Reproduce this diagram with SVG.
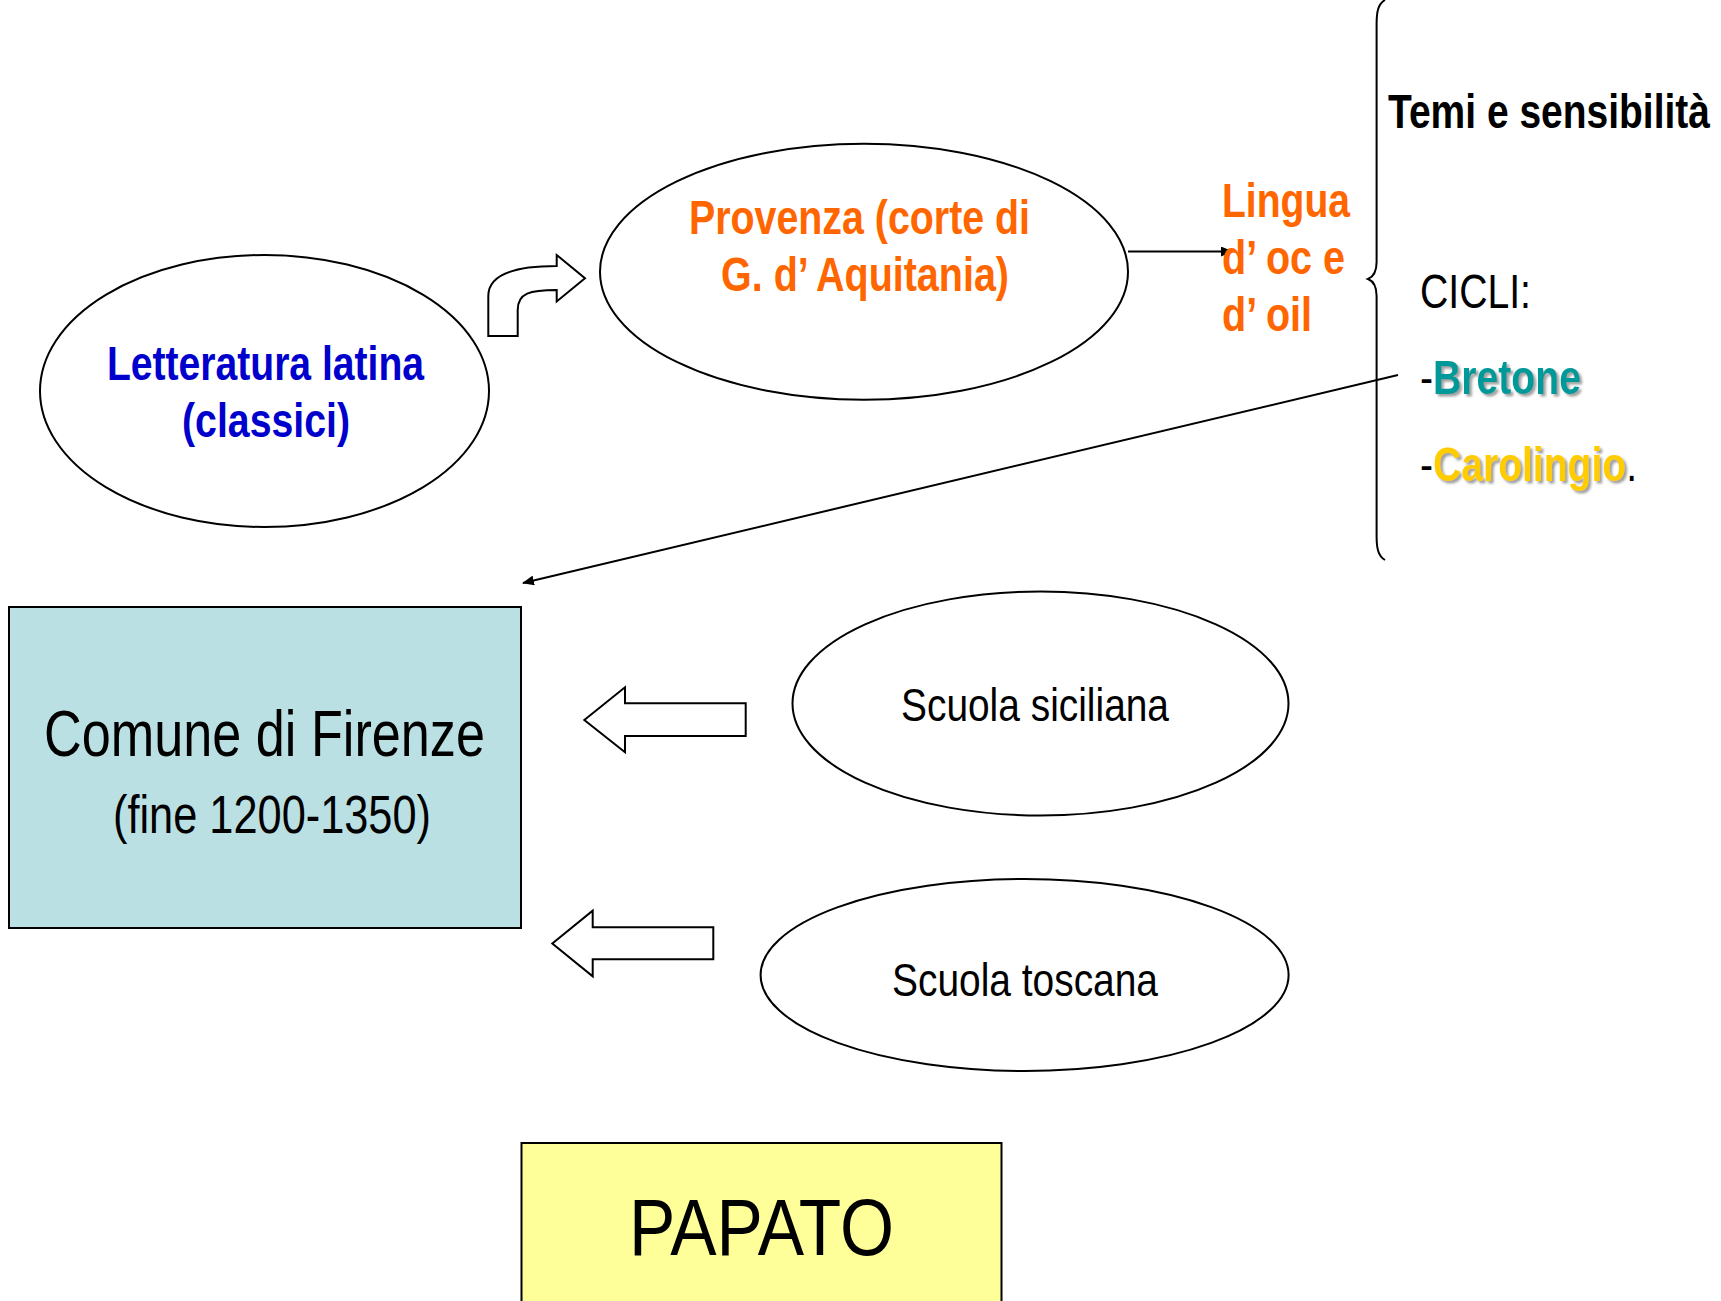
<svg xmlns="http://www.w3.org/2000/svg" width="1721" height="1301" viewBox="0 0 1721 1301">
  <style>
    .t { font-family: "Liberation Sans", Arial, sans-serif; }
    .b { font-weight: bold; }
    .shape { fill: #FFFFFF; stroke: #000000; stroke-width: 2; }
    .conn { fill: none; stroke: #000000; stroke-width: 2; }
    .orange { fill: #FF6600; }
    .blue { fill: #0000CC; }
    .teal { fill: #009999; }
    .gold { fill: #FFCC00; }
  </style>
  <defs>
    <marker id="arr" viewBox="0 0 12 10" refX="11" refY="5" markerWidth="12" markerHeight="10" markerUnits="userSpaceOnUse" orient="auto">
      <path d="M0,0 L12,5 L0,10 Z" fill="#000000"/>
    </marker>
    <filter id="shadow" x="-5%" y="-20%" width="115%" height="150%">
      <feDropShadow dx="2.5" dy="2.5" stdDeviation="1" flood-color="#888888" flood-opacity="0.8"/>
    </filter>
  </defs>
  <rect width="1721" height="1301" fill="#FFFFFF"/>

  <g id="connectors">
    <line class="conn" x1="1128" y1="251.5" x2="1232" y2="251.5" marker-end="url(#arr)"/>
    <line class="conn" x1="1398" y1="375" x2="523" y2="583" marker-end="url(#arr)"/>
    <path id="bent-arrow" class="shape" d="M488.3,336 L488.3,296 C488.3,276 510,266 556.7,266 L556.7,255 L585,278.3 L556.7,301.5 L556.7,290 C530,290 517.7,293 517.7,310 L517.7,336 Z"/>
    <path id="arrow-siciliana" class="shape" d="M584.3,720 L625,687.3 L625,703.3 L745.7,703.3 L745.7,736 L625,736 L625,752.3 Z"/>
    <path id="arrow-toscana" class="shape" d="M552.3,943.5 L592.7,910.7 L592.7,927.3 L713.3,927.3 L713.3,959.3 L592.7,959.3 L592.7,976.3 Z"/>
  </g>

  <g id="node-letteratura">
    <ellipse class="shape" cx="264.5" cy="391" rx="224.5" ry="136"/>
    <text class="t b blue" font-size="48" x="107" y="380" textLength="317" lengthAdjust="spacingAndGlyphs">Letteratura latina</text>
    <text class="t b blue" font-size="48" x="182" y="437" textLength="168" lengthAdjust="spacingAndGlyphs">(classici)</text>
  </g>

  <g id="node-provenza">
    <ellipse class="shape" cx="864" cy="271.7" rx="264" ry="128"/>
    <text class="t b orange" font-size="48" x="689" y="234" textLength="341" lengthAdjust="spacingAndGlyphs">Provenza (corte di</text>
    <text class="t b orange" font-size="48" x="721" y="291" textLength="288" lengthAdjust="spacingAndGlyphs">G. d’ Aquitania)</text>
  </g>

  <g id="node-lingua">
    <text class="t b orange" font-size="48" x="1222" y="217" textLength="128" lengthAdjust="spacingAndGlyphs">Lingua</text>
    <text class="t b orange" font-size="48" x="1222" y="274" textLength="123" lengthAdjust="spacingAndGlyphs">d’ oc e</text>
    <text class="t b orange" font-size="48" x="1222" y="331" textLength="90" lengthAdjust="spacingAndGlyphs">d’ oil</text>
  </g>

  <g id="node-brace">
    <path class="conn" d="M1385,0 C1378,4 1376.6,12 1376.6,24 L1376.6,262 C1376.6,272 1373,277 1368,279 C1373,281 1376.6,286 1376.6,296 L1376.6,536 C1376.6,548 1378,556 1385,560"/>
  </g>

  <g id="node-temi">
    <text class="t b" font-size="48" fill="#000000" x="1388" y="128" textLength="322" lengthAdjust="spacingAndGlyphs">Temi e sensibilità</text>
    <text class="t" font-size="48" fill="#000000" x="1420" y="308" textLength="111" lengthAdjust="spacingAndGlyphs">CICLI:</text>
    <text class="t" font-size="48" fill="#000000" x="1420" y="394" textLength="161" lengthAdjust="spacingAndGlyphs">-<tspan class="b teal" filter="url(#shadow)">Bretone</tspan></text>
    <text class="t" font-size="48" fill="#000000" x="1420" y="481" textLength="217" lengthAdjust="spacingAndGlyphs">-<tspan class="b gold" filter="url(#shadow)">Carolingio</tspan>.</text>
  </g>

  <g id="node-comune">
    <rect x="9" y="607" width="512" height="321" fill="#BBE0E3" stroke="#000000" stroke-width="2"/>
    <text class="t" font-size="64" fill="#000000" x="44" y="756" textLength="441" lengthAdjust="spacingAndGlyphs">Comune di Firenze</text>
    <text class="t" font-size="53" fill="#000000" x="113" y="833" textLength="318" lengthAdjust="spacingAndGlyphs">(fine 1200-1350)</text>
  </g>

  <g id="node-siciliana">
    <ellipse class="shape" cx="1040.5" cy="703.5" rx="248" ry="112"/>
    <text class="t" font-size="47" fill="#000000" x="901" y="721" textLength="268" lengthAdjust="spacingAndGlyphs">Scuola siciliana</text>
  </g>

  <g id="node-toscana">
    <ellipse class="shape" cx="1024.6" cy="975" rx="264" ry="96"/>
    <text class="t" font-size="47" fill="#000000" x="892" y="996" textLength="266" lengthAdjust="spacingAndGlyphs">Scuola toscana</text>
  </g>

  <g id="node-papato">
    <rect x="521.5" y="1143" width="480" height="170" fill="#FFFF99" stroke="#000000" stroke-width="2"/>
    <text class="t" font-size="80" fill="#000000" x="629" y="1255" textLength="265" lengthAdjust="spacingAndGlyphs">PAPATO</text>
  </g>
</svg>
